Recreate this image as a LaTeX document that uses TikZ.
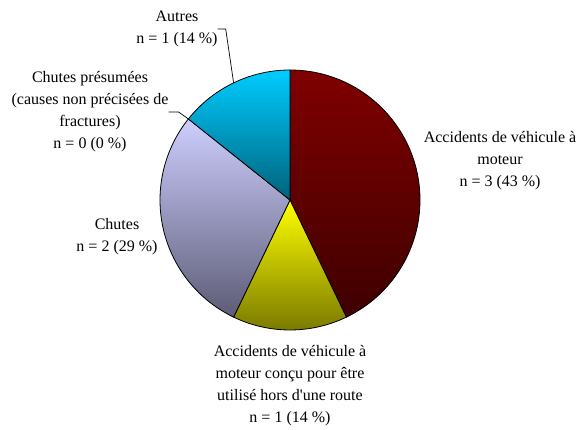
\documentclass[tikz,border=0pt]{standalone}
\usepackage{fontspec}
\setmainfont{Liberation Serif}
\usetikzlibrary{positioning}
\definecolor{vmTop}{RGB}{128,0,0}
\definecolor{vmBot}{RGB}{62,0,0}
\definecolor{horsTop}{RGB}{255,255,0}
\definecolor{horsBot}{RGB}{118,118,0}
\definecolor{chuteTop}{RGB}{206,206,255}
\definecolor{chuteBot}{RGB}{92,92,118}
\definecolor{autreTop}{RGB}{0,204,255}
\definecolor{autreBot}{RGB}{0,98,124}

\begin{document}
\begin{tikzpicture}[x=1pt, y=1pt,
	lbl/.style={align=center, inner sep=0pt, font=\fontsize{16}{22}\selectfont},
	slice/.style={draw=black, line width=0.8pt},
	leader/.style={draw=black, line width=0.7pt}]
	\useasboundingbox (0,0) rectangle (581,429);
	\fill[white] (0,0) rectangle (581,429);
	\coordinate (c) at (290,229);

	% slices, clockwise from the top
	\shadedraw[slice, top color=vmTop, bottom color=vmBot] (c) -- ([shift={(90:130pt)}]c) arc[start angle=90, end angle=-64.29, radius=130pt] -- cycle;
	\shadedraw[slice, top color=horsTop, bottom color=horsBot] (c) -- ([shift={(-64.29:130pt)}]c) arc[start angle=-64.29, end angle=-115.71, radius=130pt] -- cycle;
	\shadedraw[slice, top color=chuteTop, bottom color=chuteBot] (c) -- ([shift={(-115.71:130pt)}]c) arc[start angle=-115.71, end angle=-218.57, radius=130pt] -- cycle;
	\shadedraw[slice, top color=autreTop, bottom color=autreBot] (c) -- ([shift={(141.43:130pt)}]c) arc[start angle=141.43, end angle=90, radius=130pt] -- cycle;

	\coordinate (pAutres) at ([shift={(115.71:130pt)}]c);
	\coordinate (pPresumees) at ([shift={(141.43:130pt)}]c);

	% labels
	\node[lbl] (vm) at (500,268) {Accidents de véhicule à\\moteur\\n = 3 (43 \%)};
	\node[lbl] (hors) at (290,43) {Accidents de véhicule à\\moteur conçu pour être\\utilisé hors d\textquotesingle une route\\n = 1 (14 \%)};
	\node[lbl] (chutes) at (117,192) {Chutes\\n = 2 (29 \%)};
	\node[lbl] (presumees) at (90,317) {Chutes présumées\\(causes non précisées de\\fractures)\\n = 0 (0 \%)};
	\node[lbl] (autres) at (177,400) {Autres\\n = 1 (14 \%)};

	\draw[leader] (autres.east) -- ++(8,0) -- (pAutres);
	\draw[leader] (presumees.east) -- ++(10,0) -- (pPresumees);
\end{tikzpicture}
\end{document}
